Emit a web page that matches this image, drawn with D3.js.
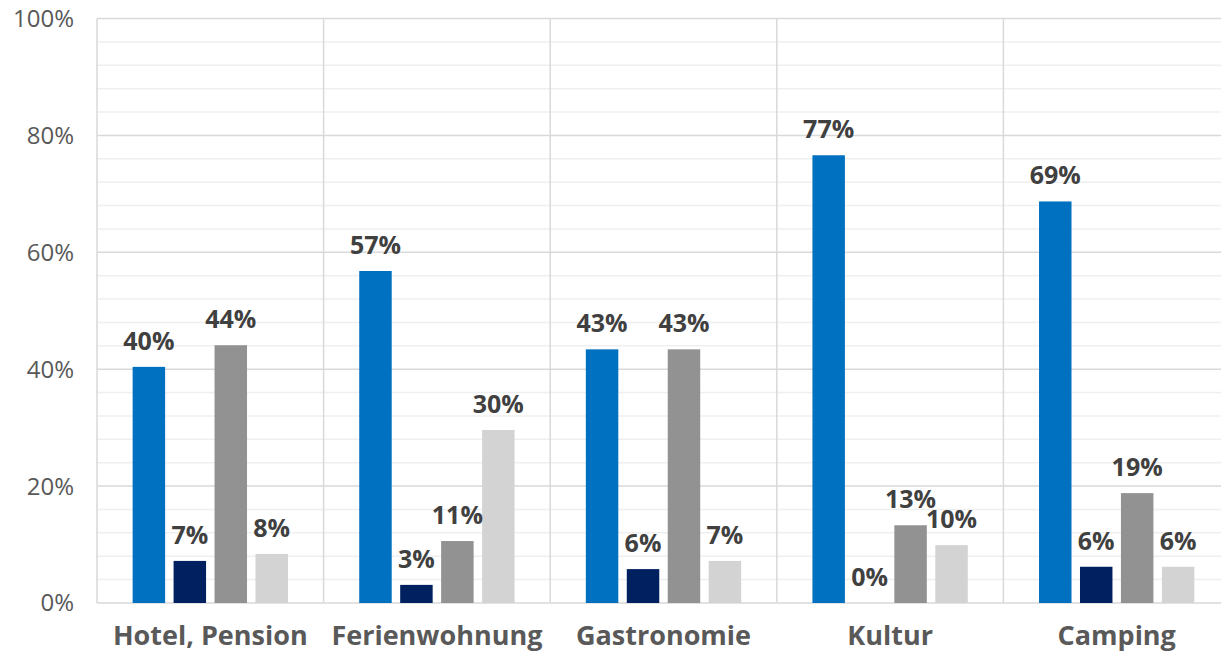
<!DOCTYPE html>
<html>
<head>
<meta charset="utf-8">
<script src="https://cdn.jsdelivr.net/npm/d3@7"></script>
<style>
  body { margin: 0; background: #fff; }
  svg { display: block; }
</style>
</head>
<body>
<div id="chart"></div>
<script>
let categories = ['Hotel, Pension', 'Ferienwohnung', 'Gastronomie', 'Kultur', 'Camping']
let seriesNames = ['s1', 's2', 's3', 's4']
let seriesColors = ['#0070C0', '#002060', '#929292', '#D3D3D3']
// values per category, one per series (percent)
let s1 = [40.4, 56.8, 43.4, 76.6, 68.7]
let s2 = [7.2, 3.1, 5.8, 0, 6.2]
let s3 = [44.1, 10.6, 43.4, 13.3, 18.8]
let s4 = [8.4, 29.6, 7.2, 9.9, 6.2]
let majorTicks = [0, 20, 40, 60, 80, 100]

let allSeries = [s1, s2, s3, s4]

let width = 1221
let height = 653
let plotLeft = 97
let plotRight = 1230
let plotTop = 18.5
let plotBottom = 603

let svg = d3.select('#chart')
  .append('svg')
  .attr('width', width)
  .attr('height', height)

let y = d3.scaleLinear().domain([0, 100]).range([plotBottom, plotTop])
let x0 = d3.scaleBand().domain(categories).range([plotLeft, plotRight]).paddingInner(0).paddingOuter(0)
let x1 = d3.scaleBand().domain(seriesNames).range([0, x0.bandwidth()]).paddingInner(0.207).paddingOuter(0.87)

// minor grid lines every 4%
svg.append('g')
  .selectAll('line')
  .data(d3.range(4, 100, 4).filter(d => d % 20 !== 0))
  .enter()
  .append('line')
  .attr('x1', plotLeft)
  .attr('x2', plotRight)
  .attr('y1', d => y(d))
  .attr('y2', d => y(d))
  .attr('stroke', '#efefef')
  .attr('stroke-width', 1.5)

// major grid lines
svg.append('g')
  .selectAll('line')
  .data(majorTicks)
  .enter()
  .append('line')
  .attr('x1', plotLeft)
  .attr('x2', plotRight)
  .attr('y1', d => y(d))
  .attr('y2', d => y(d))
  .attr('stroke', '#d9d9d9')
  .attr('stroke-width', 1.5)

// vertical category separators
svg.append('g')
  .selectAll('line')
  .data(categories)
  .enter()
  .append('line')
  .attr('x1', d => x0(d))
  .attr('x2', d => x0(d))
  .attr('y1', y(100))
  .attr('y2', y(0))
  .attr('stroke', '#d9d9d9')
  .attr('stroke-width', 1.5)

// y tick labels
svg.append('g')
  .selectAll('text')
  .data(majorTicks)
  .enter()
  .append('text')
  .attr('x', 74)
  .attr('y', d => y(d))
  .attr('dy', '0.35em')
  .attr('text-anchor', 'end')
  .style('font-family', '"Open Sans", sans-serif')
  .style('font-size', '24px')
  .style('fill', '#595959')
  .text(d => d + '%')

// bars
let groups = svg.append('g')
  .selectAll('g')
  .data(categories)
  .enter()
  .append('g')
  .attr('transform', d => 'translate(' + x0(d) + ',0)')

let bars = groups.selectAll('rect')
  .data((d, i) => seriesNames.map((s, j) => ({ series: s, color: seriesColors[j], value: allSeries[j][i] })))
  .enter()

bars.append('rect')
  .attr('x', d => x1(d.series))
  .attr('width', x1.bandwidth())
  .attr('y', d => y(d.value))
  .attr('height', d => y(0) - y(d.value))
  .style('fill', d => d.color)

bars.append('text')
  .attr('x', d => x1(d.series) + x1.bandwidth() / 2)
  .attr('y', d => y(d.value) - 17)
  .attr('text-anchor', 'middle')
  .style('font-family', '"Open Sans", sans-serif')
  .style('font-weight', 'bold')
  .style('font-size', '25px')
  .style('fill', '#404040')
  .text(d => Math.round(d.value) + '%')

// category labels
svg.append('g')
  .selectAll('text')
  .data(categories)
  .enter()
  .append('text')
  .attr('x', d => x0(d) + x0.bandwidth() / 2)
  .attr('y', 645)
  .attr('text-anchor', 'middle')
  .style('font-family', '"Open Sans", sans-serif')
  .style('font-weight', 'bold')
  .style('font-size', '27px')
  .style('fill', '#595959')
  .text(d => d)
</script>
</body>
</html>
